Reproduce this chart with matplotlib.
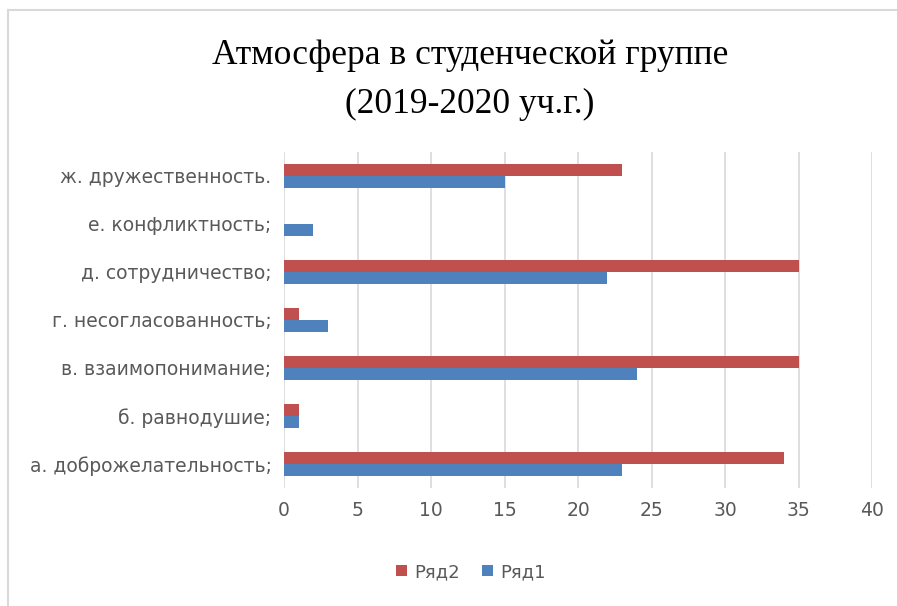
import matplotlib.pyplot as plt
import numpy as np
from matplotlib.lines import Line2D

categories = [
    "а. доброжелательность;",
    "б. равнодушие;",
    "в. взаимопонимание;",
    "г. несогласованность;",
    "д. сотрудничество;",
    "е. конфликтность;",
    "ж. дружественность.",
]
row1 = [23, 1, 24, 3, 22, 2, 15]
row2 = [34, 1, 35, 1, 35, 0, 23]
series_names = ["Ряд1", "Ряд2"]
xticks = [0, 5, 10, 15, 20, 25, 30, 35, 40]

BLUE = "#4f81bd"
RED = "#c0504d"
GREY = "#595959"

fig = plt.figure(figsize=(8.97, 6.06), dpi=100)
ax = fig.add_axes([284 / 897, 1 - 488 / 606, (872 - 284) / 897, (488 - 152) / 606])

y = np.arange(len(categories))
h = 0.26
b1 = ax.barh(y - h / 2, row1, height=h, color=BLUE, label=series_names[0], zorder=3)
b2 = ax.barh(y + h / 2, row2, height=h, color=RED, label=series_names[1], zorder=3)

ax.set_xlim(0, 40)
ax.set_ylim(-0.5, len(categories) - 0.5)
ax.set_xticks(xticks)
ax.set_yticks(y)
ax.set_yticklabels(categories)
ax.grid(axis="x", color="#d9d9d9", linewidth=1.2, zorder=0)
for s in ax.spines.values():
    s.set_visible(False)
ax.tick_params(length=0, labelsize=13.5, labelcolor=GREY)
ax.tick_params(axis="x", pad=9)
ax.tick_params(axis="y", pad=9)

fig.text(0.524, 1 - 56 / 606, "Атмосфера в студенческой группе", ha="center", va="center",
         family="Liberation Serif", fontsize=25.5)
fig.text(0.524, 1 - 104 / 606, "(2019-2020 уч.г.)", ha="center", va="center",
         family="Liberation Serif", fontsize=25.5)

fig.legend(handles=[b2, b1], labels=[series_names[1], series_names[0]],
           loc="center", bbox_to_anchor=(0.525, 1 - 572 / 606), ncol=2, frameon=False,
           fontsize=13, labelcolor=GREY, handlelength=0.6, handleheight=0.6,
           handletextpad=0.4, columnspacing=1.2)

# chart frame (left and top edges visible in crop)
fx = 8 / 897
fy = 1 - 10 / 606
fig.add_artist(Line2D([fx, fx], [0, fy], transform=fig.transFigure, color="#d9d9d9", lw=1.5))
fig.add_artist(Line2D([fx, 1], [fy, fy], transform=fig.transFigure, color="#d9d9d9", lw=1.5))

fig.savefig("out.png", dpi=100)
